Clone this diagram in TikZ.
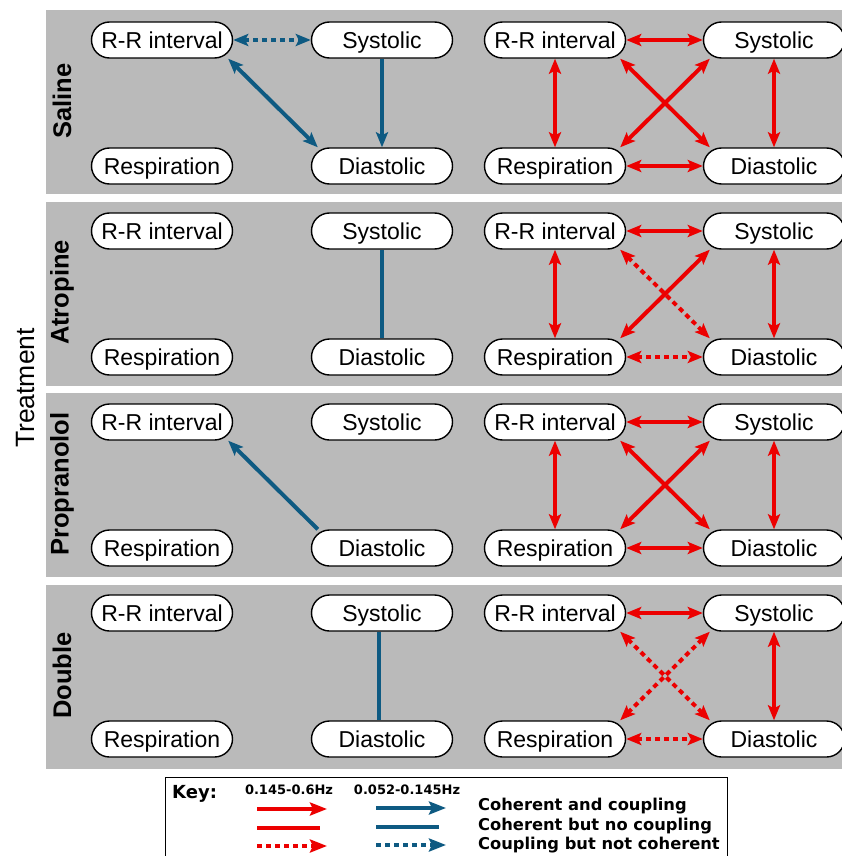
\documentclass[tikz,border=0pt]{standalone}
\usepackage{fontspec}
\setmainfont{Liberation Sans}
\newfontfamily\keyfont{DejaVu Sans}
\usetikzlibrary{arrows.meta}

\definecolor{panelgray}{RGB}{186,186,186}
\definecolor{hfred}{RGB}{236,0,0}
\definecolor{lfblue}{RGB}{14,90,130}

\begin{document}
\begin{tikzpicture}[x=1pt, y=-1pt,
      var/.style={draw, line width=1.4pt, fill=white,
        rounded corners=18pt,
        minimum width=141pt, minimum height=36pt, inner sep=0pt,
        text height=16.5pt, text depth=0pt,
        font=\fontsize{23}{27}\selectfont},
      drug/.style={rotate=90, font=\bfseries\fontsize{25.5}{30}\selectfont},
      hf/.style={hfred, line width=4pt},
      lf/.style={lfblue, line width=4pt},
      dots/.style={dash pattern=on 5pt off 4pt},
      both/.style={{Stealth[length=15pt,width=12pt,inset=3pt]}-{Stealth[length=15pt,width=12pt,inset=3pt]}},
      one/.style={-{Stealth[length=15pt,width=12pt,inset=3pt]}},
      keytip/.style={-{Stealth[length=17pt,width=13pt,inset=3pt]}},
      keylab/.style={anchor=west, inner sep=0pt,
        font=\keyfont\bfseries\fontsize{16.3}{18}\selectfont}
      ]
    \useasboundingbox (0,0) rectangle (842,856);

    % panels with the two frequency bands
    \foreach \i/\name in {0/Saline, 1/Atropine, 2/Propranolol, 3/Double} {
      \fill[panelgray] (46,{10+191.5*\i}) rectangle (842,{194+191.5*\i});
      \node (drug\i) [drug] at (62,{101+191.5*\i}) {\name};

      \node (lrr\i) [var] at (162,{40+191*\i}) {R-R interval};
      \node (lsys\i) [var] at (382,{40+191*\i}) {Systolic};
      \node (lresp\i) [var] at (162,{166+191*\i}) {Respiration};
      \node (ldia\i) [var] at (382,{166+191*\i}) {Diastolic};

      \node (hrr\i) [var] at (555,{40+191*\i}) {R-R interval};
      \node (hsys\i) [var] at (774,{40+191*\i}) {Systolic};
      \node (hresp\i) [var] at (555,{166+191*\i}) {Respiration};
      \node (hdia\i) [var] at (774,{166+191*\i}) {Diastolic};
    }

    \node (treat) [rotate=90, font=\fontsize{26.5}{30}\selectfont] at (26,388) {Treatment};

    % Saline
    \draw[lf, dots, both] (lrr0) -- (lsys0);
    \draw[lf, both] ([xshift=-5pt]lrr0.south east) -- ([xshift=7pt]ldia0.north west);
    \draw[lf, one] (lsys0) -- (ldia0);

    \draw[hf, both] (hrr0) -- (hsys0);
    \draw[hf, both] (hrr0) -- (hresp0);
    \draw[hf, both] (hsys0) -- (hdia0);
    \draw[hf, both] (hresp0) -- (hdia0);
    \draw[hf, both] ([xshift=-6pt]hrr0.south east) -- ([xshift=7pt]hdia0.north west);
    \draw[hf, both] ([xshift=7pt]hsys0.south west) -- ([xshift=-6pt]hresp0.north east);

    % Atropine
    \draw[lf] (lsys1) -- (ldia1);

    \draw[hf, both] (hrr1) -- (hsys1);
    \draw[hf, both] (hrr1) -- (hresp1);
    \draw[hf, both] (hsys1) -- (hdia1);
    \draw[hf, dots, both] (hresp1) -- (hdia1);
    \draw[hf, dots, both] ([xshift=-6pt]hrr1.south east) -- ([xshift=7pt]hdia1.north west);
    \draw[hf, both] ([xshift=7pt]hsys1.south west) -- ([xshift=-6pt]hresp1.north east);

    % Propranolol
    \draw[lf, one] ([xshift=7pt]ldia2.north west) -- ([xshift=-5pt]lrr2.south east);

    \draw[hf, both] (hrr2) -- (hsys2);
    \draw[hf, both] (hrr2) -- (hresp2);
    \draw[hf, both] (hsys2) -- (hdia2);
    \draw[hf, both] (hresp2) -- (hdia2);
    \draw[hf, both] ([xshift=-6pt]hrr2.south east) -- ([xshift=7pt]hdia2.north west);
    \draw[hf, both] ([xshift=7pt]hsys2.south west) -- ([xshift=-6pt]hresp2.north east);

    % Double
    \draw[lf] ([xshift=-3pt]lsys3.south) -- ([xshift=-3pt]ldia3.north);

    \draw[hf, both] (hrr3) -- (hsys3);
    \draw[hf, both] (hsys3) -- (hdia3);
    \draw[hf, dots, both] (hresp3) -- (hdia3);
    \draw[hf, dots, both] ([xshift=-6pt]hrr3.south east) -- ([xshift=7pt]hdia3.north west);
    \draw[hf, dots, both] ([xshift=7pt]hsys3.south west) -- ([xshift=-6pt]hresp3.north east);

    % key
    \node (keybox) [draw, line width=1.4pt, anchor=north west,
      minimum width=562pt, minimum height=100pt] at (165,777) {};
    \node (keytitle) [anchor=west, inner sep=0pt,
      font=\keyfont\bfseries\fontsize{18}{20}\selectfont] at (172,794) {Key:};
    \node (hfhead) [inner sep=0pt, font=\keyfont\bfseries\fontsize{13}{15}\selectfont]
      at (289,790) {0.145-0.6Hz};
    \node (lfhead) [inner sep=0pt, font=\keyfont\bfseries\fontsize{13}{15}\selectfont]
      at (407,790) {0.052-0.145Hz};

    \draw[hf, keytip] (257,809) -- (327,809);
    \draw[hf] (257,828) -- (320,828);
    \draw[hf, dots, keytip] (257,846) -- (327,846);
    \draw[lf, keytip] (376,808) -- (446,808);
    \draw[lf] (376,827) -- (439,827);
    \draw[lf, dots, keytip] (376,845) -- (446,845);

    \node (cc) [keylab] at (478,806) {Coherent and coupling};
    \node (cn) [keylab] at (478,826) {Coherent but no coupling};
    \node (nc) [keylab] at (478,845) {Coupling but not coherent};
  \end{tikzpicture}
\end{document}
